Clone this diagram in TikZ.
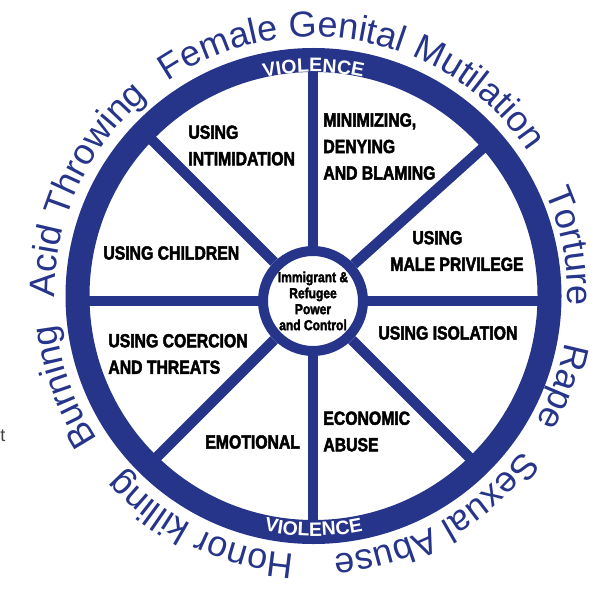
\documentclass[tikz,border=0pt]{standalone}
\usepackage{fontspec}
\setmainfont{Liberation Sans}
\newfontfamily\condfont[FakeStretch=0.83, FakeBold=2.4]{Liberation Sans Bold}
\usetikzlibrary{decorations.text}
\definecolor{wheelblue}{RGB}{38,52,138}
\tikzset{every picture/.style={line width=0.75pt}}
\tikzset{
  spoke/.style={draw=wheelblue, line width=10.5pt},
  seglabel/.style={anchor=west, inner sep=0pt, align=left, text=black,
    font=\condfont\fontsize{19}{26.5}\selectfont},
  outertext/.style={decorate, decoration={text along path, text align=center,
    text color=wheelblue}},
  ringtext/.style={decorate, decoration={text along path, text align=center,
    text color=white}}
}
\newcommand\outerfont{\fontsize{36}{40}\selectfont}
\newcommand\violfont{\bfseries\fontsize{19.5}{20}\selectfont}

\begin{document}
\begin{tikzpicture}[x=1pt,y=1pt,yscale=-1,xscale=1]
	\useasboundingbox (0,0) rectangle (596,588);
	\coordinate (wheel) at (313.5,296);

	%Shape: Circle (hub)
	\node [circle, draw=wheelblue, line width=10pt, fill=white, minimum size=100pt, inner sep=0pt,
	  align=center, font=\condfont\fontsize{14.5}{16}\selectfont] (hub) at (313,301)
	  {Immigrant \&\\Refugee\\Power\\and Control};

	%Straight Lines (spokes)
	\foreach \a in {0,-42,-90,-135,180,135,90,45} {
	  \path (hub.center) ++(\a:240) coordinate (rim\a);
	  \draw [spoke] (hub) -- (rim\a);
	}

	%Shape: Circle (outer ring)
	\draw [wheelblue, line width=24pt] (wheel) circle (236);

	% Ring Text
	\path [ringtext, decoration={text={|\violfont|VIOLENCE}}] (wheel) ++(-125:224) arc[start angle=-125, end angle=-55, radius=224];
	\path [ringtext, decoration={text={|\violfont|VIOLENCE}}] (wheel) ++(125:240) arc[start angle=125, end angle=55, radius=240];

	% Outer Text
	\path [outertext, decoration={text={|\outerfont|Burning}}] (wheel) ++(-230:259) arc[start angle=-230, end angle=-170, radius=259];
	\path [outertext, decoration={text={|\outerfont|Acid Throwing}}] (wheel) ++(-195:259) arc[start angle=-195, end angle=-115, radius=259];
	\path [outertext, decoration={text={|\outerfont|Female Genital Mutilation}}] (wheel) ++(-139:259) arc[start angle=-139, end angle=-19, radius=259];
	\path [outertext, decoration={text={|\outerfont|Torture}}] (wheel) ++(-41:254) arc[start angle=-41, end angle=19, radius=254];
	\path [outertext, decoration={text={|\outerfont|Rape}}] (wheel) ++(-10:256) arc[start angle=-10, end angle=50, radius=256];
	\path [outertext, decoration={text={|\outerfont|Sexual Abuse}}] (wheel) ++(21:259) arc[start angle=21, end angle=101, radius=259];
	\path [outertext, decoration={text={|\outerfont|Honor killing}}] (wheel) ++(76:259) arc[start angle=76, end angle=156, radius=259];

	% Text Node
	\node [seglabel] (intim) at (188,145.5) {USING\\INTIMIDATION};
	% Text Node
	\node [seglabel] (minim) at (323,146.5) {MINIMIZING,\\DENYING\\AND BLAMING};
	% Text Node
	\node [seglabel] (privil) at (390,251) {\hspace*{22pt}USING\\MALE PRIVILEGE};
	% Text Node
	\node [seglabel] (child) at (103,253) {USING CHILDREN};
	% Text Node
	\node [seglabel] (isol) at (378,333) {USING ISOLATION};
	% Text Node
	\node [seglabel] (coerc) at (108,354) {USING COERCION\\AND THREATS};
	% Text Node
	\node [seglabel] (emot) at (205,442) {EMOTIONAL};
	% Text Node
	\node [seglabel] (econ) at (323,431.5) {ECONOMIC\\ABUSE};
	% Text Node
	\node [inner sep=0pt, text=black!75, font=\fontsize{18}{20}\selectfont] (frag) at (3,436) {t};
\end{tikzpicture}
\end{document}
